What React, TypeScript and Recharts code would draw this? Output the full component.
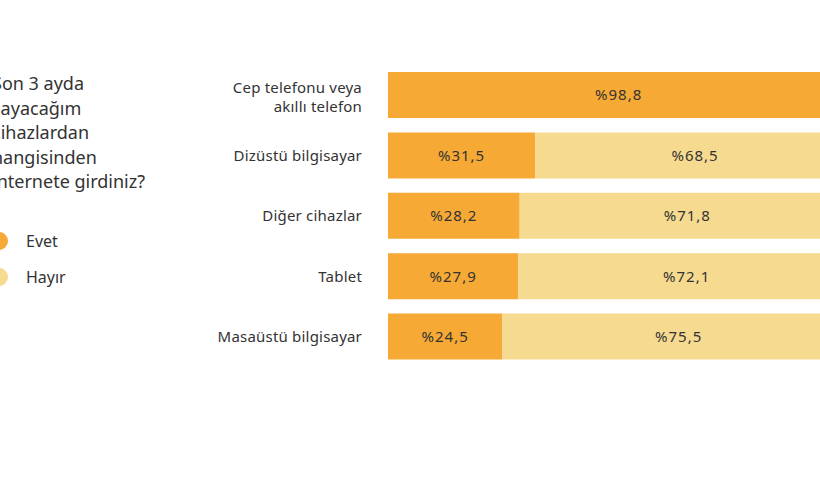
import { BarChart, Bar, XAxis, YAxis, LabelList } from "recharts"

const categories = [
  "Cep telefonu veya\nakıllı telefon",
  "Dizüstü bilgisayar",
  "Diğer cihazlar",
  "Tablet",
  "Masaüstü bilgisayar",
]
const evet = [98.8, 31.5, 28.2, 27.9, 24.5]
const hayir = [1.2, 68.5, 71.8, 72.1, 75.5]

const titleLines = ["Son 3 ayda", "sayacağım", "cihazlardan", "hangisinden", "internete girdiniz?"]

const EVET_COLOR = "#F6A935"
const HAYIR_COLOR = "#F5DA90"
const FONT = "'Noto Sans', sans-serif"

const data = categories.map((name, i) => ({ name, evet: evet[i], hayir: hayir[i] }))

const fmt = (v: any) => "%" + String(v).replace(".", ",")

function CategoryTick(props: any) {
  const { x, y, payload } = props
  const lines = String(payload.value).split("\n")
  const lineH = 19.5
  const start = -((lines.length - 1) * lineH) / 2 + (lines.length > 1 ? 2 : 0)
  return (
    <text x={x} y={y} textAnchor="end" fill="#333" fontSize={15} letterSpacing={0.2} fontFamily={FONT}>
      {lines.map((l, i) => (
        <tspan key={i} x={x} y={y + start + i * lineH} dy="0.35em">
          {l}
        </tspan>
      ))}
    </text>
  )
}

export default function App() {
  return (
    <div
      style={{
        position: "fixed",
        top: 0,
        left: 0,
        width: 820,
        height: 480,
        overflow: "hidden",
        background: "#fff",
        fontFamily: FONT,
        color: "#333",
      }}
    >
      <div style={{ position: "absolute", left: -8, top: 71, fontSize: 18, lineHeight: "24.5px" }}>
        {titleLines.map((t) => (
          <div key={t}>{t}</div>
        ))}
      </div>
      {[
        { label: "Evet", color: EVET_COLOR, y: 241 },
        { label: "Hayır", color: HAYIR_COLOR, y: 277 },
      ].map((item) => (
        <div key={item.label}>
          <div
            style={{
              position: "absolute",
              left: -10,
              top: item.y - 9,
              width: 18,
              height: 18,
              borderRadius: "50%",
              background: item.color,
            }}
          />
          <div style={{ position: "absolute", left: 26, top: item.y - 12, fontSize: 16, lineHeight: "24px" }}>
            {item.label}
          </div>
        </div>
      ))}
      <div style={{ position: "absolute", left: 0, top: 0 }}>
        <BarChart
          width={870}
          height={480}
          data={data}
          layout="vertical"
          barCategoryGap={0}
          margin={{ top: 65, right: 15, bottom: 113, left: 0 }}
        >
          <XAxis type="number" domain={[0, 100]} hide />
          <YAxis
            type="category"
            dataKey="name"
            width={388}
            axisLine={false}
            tickLine={false}
            tickMargin={20}
            tick={<CategoryTick />}
          />
          <Bar dataKey="evet" stackId="a" fill={EVET_COLOR} barSize={46} isAnimationActive={false}>
            <LabelList
              dataKey="evet"
              position="center"
              formatter={fmt}
              fill="#333"
              fontSize={15}
              letterSpacing={1}
              fontFamily={FONT}
            />
          </Bar>
          <Bar dataKey="hayir" stackId="a" fill={HAYIR_COLOR} barSize={46} isAnimationActive={false}>
            <LabelList
              dataKey="hayir"
              position="center"
              formatter={fmt}
              fill="#333"
              fontSize={15}
              letterSpacing={1}
              fontFamily={FONT}
            />
          </Bar>
        </BarChart>
      </div>
    </div>
  )
}
